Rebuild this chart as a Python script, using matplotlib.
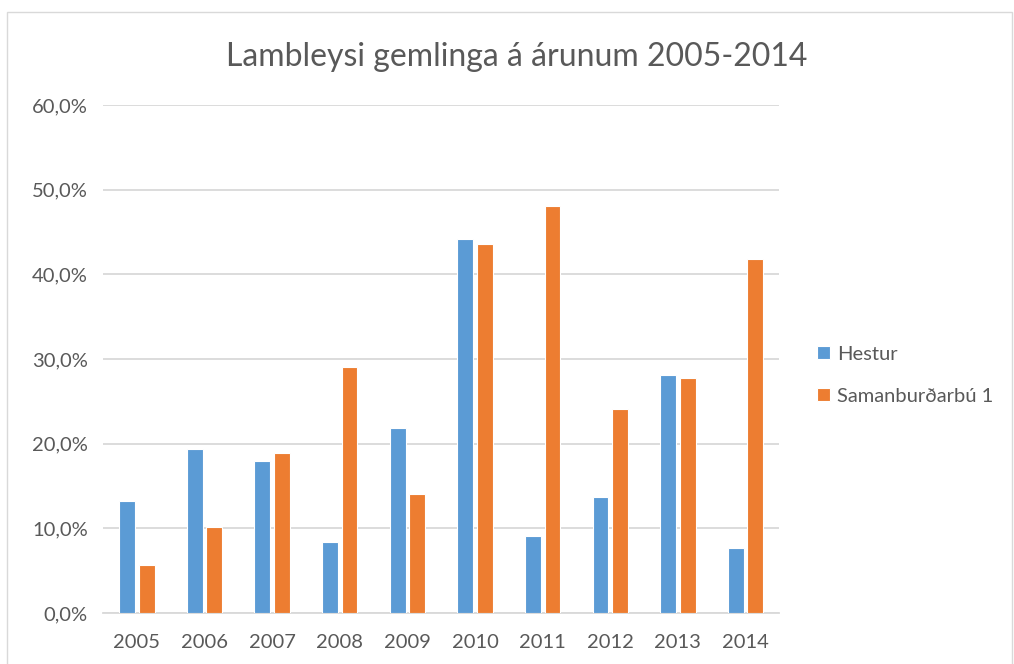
import matplotlib.pyplot as plt
import numpy as np
from matplotlib.patches import Rectangle

years = ['2005', '2006', '2007', '2008', '2009', '2010', '2011', '2012', '2013', '2014']
hestur = [13.2, 19.4, 17.9, 8.4, 21.8, 44.2, 9.1, 13.7, 28.1, 7.7]
samanburdur = [5.7, 10.1, 18.9, 29.0, 14.0, 43.6, 48.1, 24.1, 27.8, 41.8]

plt.rcParams['font.family'] = ['Lato', 'DejaVu Sans']
text_color = '#595959'
grid_color = '#D9D9D9'

fig = plt.figure(figsize=(10.14, 6.64), dpi=100)
ax = fig.add_axes([0.1016, 0.0768, 0.667, 0.7651])

x = np.arange(len(years))
w = 0.235
ax.bar(x - 0.145, hestur, w, color='#5B9BD5', edgecolor='white', linewidth=0.8,
       label='Hestur', zorder=3)
ax.bar(x + 0.145, samanburdur, w, color='#ED7D31', edgecolor='white', linewidth=0.8,
       label='Samanburðarbú 1', zorder=3)

ax.set_xlim(-0.5, len(years) - 0.5)
ax.set_ylim(0, 60)
ax.set_yticks(np.arange(0, 61, 10))
ax.set_yticklabels(['{:.1f}%'.format(v).replace('.', ',') for v in range(0, 61, 10)])
ax.set_xticks(x)
ax.set_xticklabels(years)
ax.yaxis.grid(True, color=grid_color, linewidth=1.3, zorder=0)
ax.tick_params(axis='both', length=0, labelsize=14.5, colors=text_color)
ax.tick_params(axis='y', pad=11)
ax.tick_params(axis='x', pad=15)
for s in ['top', 'right', 'left']:
    ax.spines[s].set_visible(False)
ax.spines['bottom'].set_color(grid_color)
ax.spines['bottom'].set_linewidth(1.3)

fig.text(0.51, 0.914, 'Lambleysi gemlinga á árunum 2005-2014', ha='center', va='center',
         fontsize=23, color=text_color)

handles, labels = ax.get_legend_handles_labels()
fig.legend(handles, labels, loc='center left', bbox_to_anchor=(0.788, 0.435),
           frameon=False, fontsize=14.5, labelcolor=text_color, handlelength=0.65,
           handleheight=0.65, handletextpad=0.35, labelspacing=1.25)

fig.patches.append(Rectangle((0.007, -0.01), 0.991, 0.992, transform=fig.transFigure,
                             fill=False, edgecolor=grid_color, linewidth=1))

fig.savefig('out.png', dpi=100)
